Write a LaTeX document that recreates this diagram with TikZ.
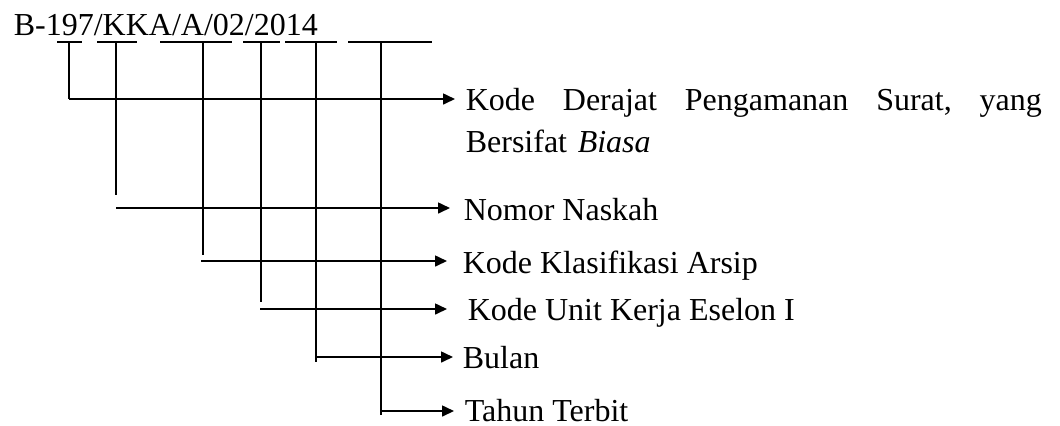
\documentclass[tikz,border=0pt]{standalone}
\usepackage{fontspec}
\setmainfont{Liberation Serif}
\usetikzlibrary{arrows.meta,positioning}

\begin{document}
\begin{tikzpicture}[
    x=0.5pt, y=-0.5pt,
    line width=0.8pt,
    arrow/.style={-{Triangle[length=6pt,width=5.5pt]}, shorten >=5pt},
    lbl/.style={anchor=base west, inner sep=0pt, font=\fontsize{16}{21}\selectfont}
]
    \useasboundingbox (0,0) rectangle (1060,425);

    \node[lbl] (nomor) at (13,35) {B-197/KKA/A/02/2014};

    % garis bawah
    \draw (57,42) -- (82,42);
    \draw (97,42) -- (137,42);
    \draw (160,42) -- (232,42);
    \draw (243,42) -- (280,42);
    \draw (285,42) -- (337,42);
    \draw (348,42) -- (432,42);

    \coordinate (t1) at (69,42);
    \coordinate (t2) at (116,42);
    \coordinate (t3) at (203,42);
    \coordinate (t4) at (261,42);
    \coordinate (t5) at (316,42);
    \coordinate (t6) at (381,42);

    \coordinate (h1) at (69,99);
    \coordinate (h2) at (116,208);
    \coordinate (h3) at (201,261);
    \coordinate (h4) at (260,309);
    \coordinate (h5) at (316,357);
    \coordinate (h6) at (381,411);

    \node[lbl, text width=288pt, align=left] (derajat) at (465,110)
        {Kode\hfill Derajat\hfill Pengamanan\hfill Surat,\hfill yang\\Bersifat \textit{Biasa}};
    \node[lbl] (naskah) at (463,220) {Nomor Naskah};
    \node[lbl] (arsip) at (462,273) {Kode Klasifikasi Arsip};
    \node[lbl] (unit) at (467,320) {Kode Unit Kerja Eselon I};
    \node[lbl] (bulan) at (462,368) {Bulan};
    \node[lbl] (tahun) at (464,421) {Tahun Terbit};

    % garis tegak
    \draw (t1) -- (h1);
    \draw (t2) -- (116,195);
    \draw (t3) -- (203,255);
    \draw (t4) -- (261,302);
    \draw (t5) -- (316,362);
    \draw (t6) -- (381,415);

    \draw[arrow] (h1) -- (h1 -| derajat.west);
    \draw[arrow, shorten >=6.5pt] (h2) -- (h2 -| naskah.west);
    \draw[arrow, shorten >=7.5pt] (h3) -- (h3 -| arsip.west);
    \draw[arrow, shorten >=10pt] (h4) -- (h4 -| unit.west);
    \draw[arrow, shorten >=4.5pt] (h5) -- (h5 -| bulan.west);
    \draw[arrow, shorten >=5pt] (h6) -- (h6 -| tahun.west);
\end{tikzpicture}
\end{document}
